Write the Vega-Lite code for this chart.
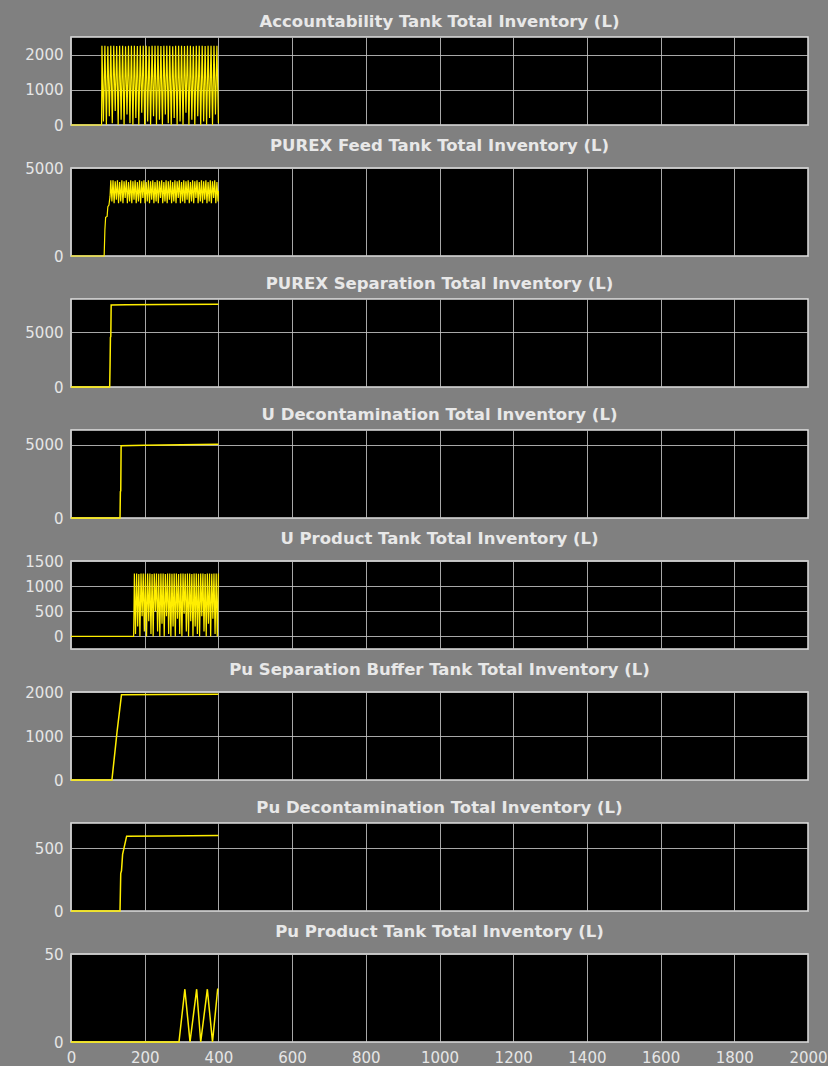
{
  "$schema": "https://vega.github.io/schema/vega-lite/v6.json",
  "background": "#808080",
  "padding": {"left": 24, "top": 12, "right": 0, "bottom": 0},
  "bounds": "flush",
  "spacing": 43,
  "datasets": {
    "p1": [{"t":0,"v":0},{"t":83,"v":0},{"t":84,"v":2250},{"t":88,"v":100},{"t":92,"v":2250},{"t":96,"v":0},{"t":100,"v":2240},{"t":104,"v":250},{"t":108,"v":2250},{"t":112,"v":50},{"t":116,"v":2250},{"t":120,"v":400},{"t":124,"v":2245},{"t":128,"v":0},{"t":132,"v":2250},{"t":136,"v":150},{"t":140,"v":2250},{"t":144,"v":0},{"t":148,"v":2240},{"t":152,"v":300},{"t":156,"v":2250},{"t":160,"v":50},{"t":164,"v":2250},{"t":168,"v":0},{"t":172,"v":2250},{"t":176,"v":200},{"t":180,"v":2245},{"t":184,"v":0},{"t":188,"v":2250},{"t":192,"v":350},{"t":196,"v":2250},{"t":200,"v":0},{"t":204,"v":2250},{"t":208,"v":100},{"t":212,"v":2240},{"t":216,"v":0},{"t":220,"v":2250},{"t":224,"v":250},{"t":228,"v":2250},{"t":232,"v":0},{"t":236,"v":2250},{"t":240,"v":150},{"t":244,"v":2245},{"t":248,"v":0},{"t":252,"v":2250},{"t":256,"v":300},{"t":260,"v":2250},{"t":264,"v":50},{"t":268,"v":2250},{"t":272,"v":0},{"t":276,"v":2240},{"t":280,"v":200},{"t":284,"v":2250},{"t":288,"v":0},{"t":292,"v":2250},{"t":296,"v":100},{"t":300,"v":2250},{"t":304,"v":0},{"t":308,"v":2245},{"t":312,"v":350},{"t":316,"v":2250},{"t":320,"v":0},{"t":324,"v":2250},{"t":328,"v":150},{"t":332,"v":2240},{"t":336,"v":0},{"t":340,"v":2250},{"t":344,"v":250},{"t":348,"v":2250},{"t":352,"v":0},{"t":356,"v":2250},{"t":360,"v":100},{"t":364,"v":2245},{"t":368,"v":0},{"t":372,"v":2250},{"t":376,"v":200},{"t":380,"v":2250},{"t":384,"v":0},{"t":388,"v":2250},{"t":392,"v":300},{"t":396,"v":2250},{"t":400,"v":50}],
    "p2": [{"t":0,"v":0},{"t":90,"v":0},{"t":92,"v":1500},{"t":94,"v":2200},{"t":98,"v":2250},{"t":100,"v":2800},{"t":103,"v":2900},{"t":106,"v":3400},{"t":108,"v":4300},{"t":111,"v":3100},{"t":114,"v":4300},{"t":117,"v":3000},{"t":120,"v":4250},{"t":123,"v":3200},{"t":126,"v":4300},{"t":129,"v":3000},{"t":132,"v":4200},{"t":135,"v":3100},{"t":138,"v":4300},{"t":141,"v":3000},{"t":144,"v":4250},{"t":147,"v":3300},{"t":150,"v":4300},{"t":153,"v":3000},{"t":156,"v":4200},{"t":159,"v":3100},{"t":162,"v":4300},{"t":165,"v":3000},{"t":168,"v":4250},{"t":171,"v":3200},{"t":174,"v":4300},{"t":177,"v":3000},{"t":180,"v":4200},{"t":183,"v":3100},{"t":186,"v":4300},{"t":189,"v":3000},{"t":192,"v":4250},{"t":195,"v":3300},{"t":198,"v":4300},{"t":201,"v":3000},{"t":204,"v":4200},{"t":207,"v":3100},{"t":210,"v":4300},{"t":213,"v":3000},{"t":216,"v":4250},{"t":219,"v":3200},{"t":222,"v":4300},{"t":225,"v":3000},{"t":228,"v":4200},{"t":231,"v":3100},{"t":234,"v":4300},{"t":237,"v":3000},{"t":240,"v":4250},{"t":243,"v":3300},{"t":246,"v":4300},{"t":249,"v":3000},{"t":252,"v":4200},{"t":255,"v":3100},{"t":258,"v":4300},{"t":261,"v":3000},{"t":264,"v":4250},{"t":267,"v":3200},{"t":270,"v":4300},{"t":273,"v":3000},{"t":276,"v":4200},{"t":279,"v":3100},{"t":282,"v":4300},{"t":285,"v":3000},{"t":288,"v":4250},{"t":291,"v":3300},{"t":294,"v":4300},{"t":297,"v":3000},{"t":300,"v":4200},{"t":303,"v":3100},{"t":306,"v":4300},{"t":309,"v":3000},{"t":312,"v":4250},{"t":315,"v":3200},{"t":318,"v":4300},{"t":321,"v":3000},{"t":324,"v":4200},{"t":327,"v":3100},{"t":330,"v":4300},{"t":333,"v":3000},{"t":336,"v":4250},{"t":339,"v":3300},{"t":342,"v":4300},{"t":345,"v":3000},{"t":348,"v":4200},{"t":351,"v":3100},{"t":354,"v":4300},{"t":357,"v":3000},{"t":360,"v":4250},{"t":363,"v":3200},{"t":366,"v":4300},{"t":369,"v":3000},{"t":372,"v":4200},{"t":375,"v":3100},{"t":378,"v":4300},{"t":381,"v":3000},{"t":384,"v":4250},{"t":387,"v":3300},{"t":390,"v":4300},{"t":393,"v":3000},{"t":396,"v":4200},{"t":399,"v":3100},{"t":400,"v":3700}],
    "p3": [{"t":0,"v":0},{"t":105,"v":0},{"t":106,"v":2000},{"t":107,"v":4500},{"t":108,"v":4600},{"t":109,"v":7450},{"t":150,"v":7470},{"t":250,"v":7500},{"t":400,"v":7530}],
    "p4": [{"t":0,"v":0},{"t":133,"v":0},{"t":134,"v":1800},{"t":135,"v":1850},{"t":136,"v":4930},{"t":200,"v":4960},{"t":300,"v":5000},{"t":400,"v":5030}],
    "p5": [{"t":0,"v":0},{"t":170,"v":0},{"t":172,"v":1250},{"t":175,"v":50},{"t":178,"v":1250},{"t":181,"v":200},{"t":184,"v":1240},{"t":187,"v":0},{"t":190,"v":1250},{"t":193,"v":400},{"t":196,"v":1250},{"t":199,"v":100},{"t":202,"v":1245},{"t":205,"v":0},{"t":208,"v":1250},{"t":211,"v":300},{"t":214,"v":1250},{"t":217,"v":50},{"t":220,"v":1240},{"t":223,"v":0},{"t":226,"v":1250},{"t":229,"v":500},{"t":232,"v":1250},{"t":235,"v":100},{"t":238,"v":1245},{"t":241,"v":0},{"t":244,"v":1250},{"t":247,"v":250},{"t":250,"v":1250},{"t":253,"v":0},{"t":256,"v":1240},{"t":259,"v":400},{"t":262,"v":1250},{"t":265,"v":50},{"t":268,"v":1250},{"t":271,"v":0},{"t":274,"v":1245},{"t":277,"v":200},{"t":280,"v":1250},{"t":283,"v":0},{"t":286,"v":1250},{"t":289,"v":350},{"t":292,"v":1240},{"t":295,"v":50},{"t":298,"v":1250},{"t":301,"v":0},{"t":304,"v":1250},{"t":307,"v":450},{"t":310,"v":1245},{"t":313,"v":100},{"t":316,"v":1250},{"t":319,"v":0},{"t":322,"v":1250},{"t":325,"v":300},{"t":328,"v":1240},{"t":331,"v":0},{"t":334,"v":1250},{"t":337,"v":200},{"t":340,"v":1250},{"t":343,"v":50},{"t":346,"v":1245},{"t":349,"v":0},{"t":352,"v":1250},{"t":355,"v":400},{"t":358,"v":1250},{"t":361,"v":100},{"t":364,"v":1240},{"t":367,"v":0},{"t":370,"v":1250},{"t":373,"v":250},{"t":376,"v":1250},{"t":379,"v":0},{"t":382,"v":1245},{"t":385,"v":350},{"t":388,"v":1250},{"t":391,"v":50},{"t":394,"v":1250},{"t":397,"v":0},{"t":400,"v":1250}],
    "p6": [{"t":0,"v":0},{"t":111,"v":0},{"t":120,"v":700},{"t":125,"v":1100},{"t":137,"v":1940},{"t":250,"v":1945},{"t":400,"v":1950}],
    "p7": [{"t":0,"v":0},{"t":133,"v":0},{"t":135,"v":300},{"t":137,"v":320},{"t":140,"v":450},{"t":151,"v":595},{"t":250,"v":597},{"t":400,"v":600}],
    "p8": [{"t":0,"v":0},{"t":293,"v":0},{"t":309,"v":30},{"t":323,"v":0},{"t":341,"v":30},{"t":352,"v":0},{"t":370,"v":30},{"t":384,"v":0},{"t":398,"v":30},{"t":400,"v":30}]
  },
  "vconcat": [
    {
      "title": "Accountability Tank Total Inventory (L)",
      "width": 737, "height": 88,
      "data": {"name": "p1"},
      "mark": {"type": "line", "color": "#ffee00", "strokeWidth": 1.2},
      "encoding": {
        "x": {"field": "t", "type": "quantitative", "scale": {"domain": [0, 2000], "nice": false}, "axis": {"values": [0,200,400,600,800,1000,1200,1400,1600,1800,2000], "labels": false, "title": null}},
        "y": {"field": "v", "type": "quantitative", "scale": {"domain": [0, 2500], "nice": false}, "axis": {"values": [0,1000,2000], "title": null}}
      }
    },
    {
      "title": "PUREX Feed Tank Total Inventory (L)",
      "width": 737, "height": 88,
      "data": {"name": "p2"},
      "mark": {"type": "line", "color": "#ffee00", "strokeWidth": 1.2},
      "encoding": {
        "x": {"field": "t", "type": "quantitative", "scale": {"domain": [0, 2000], "nice": false}, "axis": {"values": [0,200,400,600,800,1000,1200,1400,1600,1800,2000], "labels": false, "title": null}},
        "y": {"field": "v", "type": "quantitative", "scale": {"domain": [0, 5000], "nice": false}, "axis": {"values": [0,5000], "title": null}}
      }
    },
    {
      "title": "PUREX Separation Total Inventory (L)",
      "width": 737, "height": 88,
      "data": {"name": "p3"},
      "mark": {"type": "line", "color": "#ffee00", "strokeWidth": 1.5},
      "encoding": {
        "x": {"field": "t", "type": "quantitative", "scale": {"domain": [0, 2000], "nice": false}, "axis": {"values": [0,200,400,600,800,1000,1200,1400,1600,1800,2000], "labels": false, "title": null}},
        "y": {"field": "v", "type": "quantitative", "scale": {"domain": [0, 8000], "nice": false}, "axis": {"values": [0,5000], "title": null}}
      }
    },
    {
      "title": "U Decontamination Total Inventory (L)",
      "width": 737, "height": 88,
      "data": {"name": "p4"},
      "mark": {"type": "line", "color": "#ffee00", "strokeWidth": 1.5},
      "encoding": {
        "x": {"field": "t", "type": "quantitative", "scale": {"domain": [0, 2000], "nice": false}, "axis": {"values": [0,200,400,600,800,1000,1200,1400,1600,1800,2000], "labels": false, "title": null}},
        "y": {"field": "v", "type": "quantitative", "scale": {"domain": [0, 6000], "nice": false}, "axis": {"values": [0,5000], "title": null}}
      }
    },
    {
      "title": "U Product Tank Total Inventory (L)",
      "width": 737, "height": 88,
      "data": {"name": "p5"},
      "mark": {"type": "line", "color": "#ffee00", "strokeWidth": 1.2},
      "encoding": {
        "x": {"field": "t", "type": "quantitative", "scale": {"domain": [0, 2000], "nice": false}, "axis": {"values": [0,200,400,600,800,1000,1200,1400,1600,1800,2000], "labels": false, "title": null}},
        "y": {"field": "v", "type": "quantitative", "scale": {"domain": [-250, 1500], "nice": false, "zero": false}, "axis": {"values": [0,500,1000,1500], "title": null}}
      }
    },
    {
      "title": "Pu Separation Buffer Tank Total Inventory (L)",
      "width": 737, "height": 88,
      "data": {"name": "p6"},
      "mark": {"type": "line", "color": "#ffee00", "strokeWidth": 1.5},
      "encoding": {
        "x": {"field": "t", "type": "quantitative", "scale": {"domain": [0, 2000], "nice": false}, "axis": {"values": [0,200,400,600,800,1000,1200,1400,1600,1800,2000], "labels": false, "title": null}},
        "y": {"field": "v", "type": "quantitative", "scale": {"domain": [0, 2000], "nice": false}, "axis": {"values": [0,1000,2000], "title": null}}
      }
    },
    {
      "title": "Pu Decontamination Total Inventory (L)",
      "width": 737, "height": 88,
      "data": {"name": "p7"},
      "mark": {"type": "line", "color": "#ffee00", "strokeWidth": 1.5},
      "encoding": {
        "x": {"field": "t", "type": "quantitative", "scale": {"domain": [0, 2000], "nice": false}, "axis": {"values": [0,200,400,600,800,1000,1200,1400,1600,1800,2000], "labels": false, "title": null}},
        "y": {"field": "v", "type": "quantitative", "scale": {"domain": [0, 700], "nice": false}, "axis": {"values": [0,500], "title": null}}
      }
    },
    {
      "title": "Pu Product Tank Total Inventory (L)",
      "width": 737, "height": 88,
      "data": {"name": "p8"},
      "mark": {"type": "line", "color": "#ffee00", "strokeWidth": 1.5},
      "encoding": {
        "x": {"field": "t", "type": "quantitative", "scale": {"domain": [0, 2000], "nice": false}, "axis": {"values": [0,200,400,600,800,1000,1200,1400,1600,1800,2000], "labels": true, "title": null}},
        "y": {"field": "v", "type": "quantitative", "scale": {"domain": [0, 50], "nice": false}, "axis": {"values": [0,50], "title": null}}
      }
    }
  ],
  "config": {
    "view": {"fill": "#000000", "stroke": "#e0e0e0", "strokeWidth": 1.5},
    "axis": {"domain": false, "ticks": false, "grid": true, "format": "d", "gridColor": "#c4c4c4", "gridWidth": 1, "gridOpacity": 0.85, "labelColor": "#e6e6e6", "labelFont": "DejaVu Sans", "labelFontSize": 15, "labelPadding": 8},
    "axisX": {"labelPadding": 8, "labelFlush": false},
    "title": {"font": "DejaVu Sans", "fontSize": 16.5, "fontWeight": "bold", "color": "#e8e8e8", "offset": 7, "anchor": "middle", "frame": "group", "baseline": "alphabetic"}
  }
}
